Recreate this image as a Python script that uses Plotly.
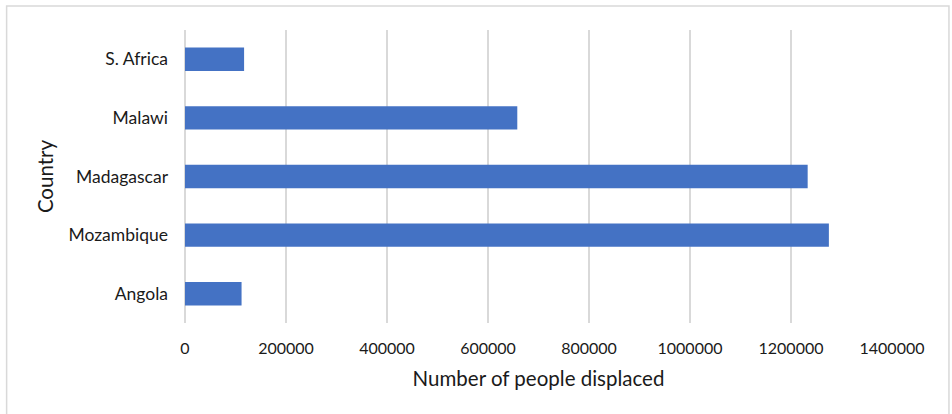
import plotly.graph_objects as go

countries = ["Angola", "Mozambique", "Madagascar", "Malawi", "S. Africa"]
displaced = [112000, 1275000, 1233000, 658000, 117000]
x_ticks = [0, 200000, 400000, 600000, 800000, 1000000, 1200000, 1400000]

W, H = 952, 414
L, R, T, B = 184.5, 60, 30, 91
plot_w = W - L - R
plot_h = H - T - B


def px_to_paper_x(px):
    return (px - L) / plot_w


def px_to_paper_y(py):
    return (H - B - py) / plot_h


font_family = "Lato, 'Open Sans', sans-serif"

fig = go.Figure(
    go.Bar(
        x=displaced,
        y=countries,
        orientation="h",
        marker=dict(color="#4472C4", line=dict(width=0)),
        width=0.4,
        hoverinfo="x+y",
    )
)

fig.update_layout(
    width=W,
    height=H,
    margin=dict(l=L, r=R, t=T, b=B, pad=0),
    paper_bgcolor="white",
    plot_bgcolor="white",
    font=dict(family=font_family, size=16, color="#1a1a1a"),
    showlegend=False,
    xaxis=dict(
        range=[0, 1400000],
        tickvals=x_ticks,
        ticktext=[str(v) for v in x_ticks],
        tickfont=dict(size=16),
        showgrid=True,
        gridcolor="#d9d9d9",
        gridwidth=1.5,
        zeroline=True,
        zerolinecolor="#d9d9d9",
        zerolinewidth=1.5,
        showline=False,
        ticks="",
        ticklabelstandoff=14,
        title=dict(text="Number of people displaced", font=dict(size=20.5), standoff=15),
        fixedrange=True,
    ),
    yaxis=dict(
        categoryorder="array",
        categoryarray=countries,
        tickfont=dict(size=17.5),
        showgrid=False,
        zeroline=False,
        showline=False,
        ticks="",
        ticklabelstandoff=16,
        title=dict(text="Country", font=dict(size=20.5), standoff=9),
        fixedrange=True,
    ),
    shapes=[
        dict(
            type="rect",
            xref="paper",
            yref="paper",
            x0=px_to_paper_x(6),
            x1=px_to_paper_x(949),
            y0=px_to_paper_y(420),
            y1=px_to_paper_y(6),
            line=dict(color="#d9d9d9", width=1.5),
            fillcolor="rgba(0,0,0,0)",
            layer="below",
        )
    ],
)

fig.write_html("out.html")
